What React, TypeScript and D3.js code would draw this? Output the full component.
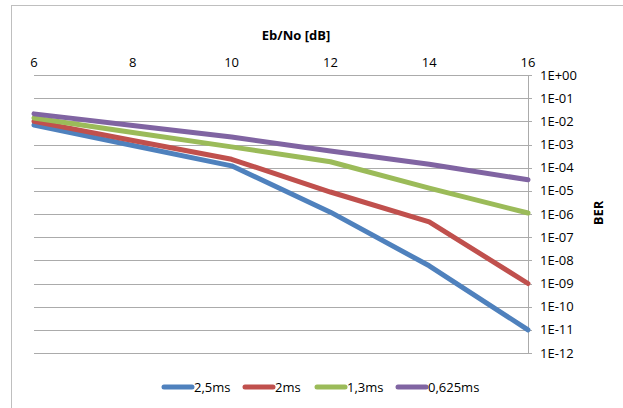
import React from "react";
import * as d3 from "d3";

const xValues = [6, 8, 10, 12, 14, 16];
const seriesNames = ["2,5ms", "2ms", "1,3ms", "0,625ms"];
const ber25 = [6.9e-3, 9.1e-4, 1.2e-4, 1.2e-6, 5.8e-9, 1e-11];
const ber2 = [1.0e-2, 1.5e-3, 2.3e-4, 8.9e-6, 4.6e-7, 1e-9];
const ber13 = [1.4e-2, 3.3e-3, 7.9e-4, 1.8e-4, 1.3e-5, 1.1e-6];
const ber0625 = [2.1e-2, 6.6e-3, 2.1e-3, 5.2e-4, 1.4e-4, 3e-5];
const xTicks = [6, 8, 10, 12, 14, 16];
const yTickExps = [0, -1, -2, -3, -4, -5, -6, -7, -8, -9, -10, -11, -12];
const colors = ["#4F81BD", "#C0504D", "#9BBB59", "#8064A2"];

const W = 623;
const H = 408;
const FONT = "'Open Sans', 'Liberation Sans', sans-serif";
const FS = 13;

function fmtExp(e: number) {
  if (e >= 0) return "1E+" + String(e).padStart(2, "0");
  return "1E-" + String(-e).padStart(2, "0");
}

export default function App() {
  const x = d3.scaleLinear().domain([6, 16]).range([34, 528]);
  const y = d3.scaleLog().domain([1, 1e-12]).range([75, 353]);
  const allSeries = [ber25, ber2, ber13, ber0625];
  const line = d3
    .line<number>()
    .x((_, i) => x(xValues[i]))
    .y((d) => y(d));

  const legendX = [162, 243, 315, 396];

  return (
    <svg
      width={W}
      height={H}
      style={{ position: "absolute", left: 0, top: 0, background: "#fff" }}
      fontFamily={FONT}
    >
      <rect x={11.5} y={5.5} width={620} height={420} fill="#fff" stroke="#BFBFBF" />
      {yTickExps.map((e) => (
        <g key={e}>
          <line
            x1={34}
            x2={532}
            y1={Math.round(y(Math.pow(10, e))) + 0.5}
            y2={Math.round(y(Math.pow(10, e))) + 0.5}
            stroke="#ABABAB"
            strokeWidth={1}
          />
          <text
            x={540}
            y={y(Math.pow(10, e))}
            dy="0.35em"
            fontSize={FS}
            fill="#000"
          >
            {fmtExp(e)}
          </text>
        </g>
      ))}
      <line x1={528.5} x2={528.5} y1={75} y2={353} stroke="#ABABAB" />
      {xTicks.map((t) => (
        <text key={t} x={x(t)} y={67} textAnchor="middle" fontSize={FS} fill="#000">
          {t}
        </text>
      ))}
      <text x={296} y={40} textAnchor="middle" fontSize={FS} fontWeight="bold">
        Eb/No [dB]
      </text>
      <text
        transform={`translate(603,213) rotate(-90)`}
        textAnchor="middle"
        fontSize={FS}
        fontWeight="bold"
      >
        BER
      </text>
      {allSeries.map((s, i) => (
        <path
          key={i}
          d={line(s) || ""}
          fill="none"
          stroke={colors[i]}
          strokeWidth={5}
          strokeLinejoin="round"
          strokeLinecap="round"
        />
      ))}
      {seriesNames.map((n, i) => (
        <g key={n}>
          <line
            x1={legendX[i] + 2}
            x2={legendX[i] + 30}
            y1={387}
            y2={387}
            stroke={colors[i]}
            strokeWidth={5}
            strokeLinecap="round"
          />
          <text x={legendX[i] + 32} y={387} dy="0.35em" fontSize={FS}>
            {n}
          </text>
        </g>
      ))}
    </svg>
  );
}
